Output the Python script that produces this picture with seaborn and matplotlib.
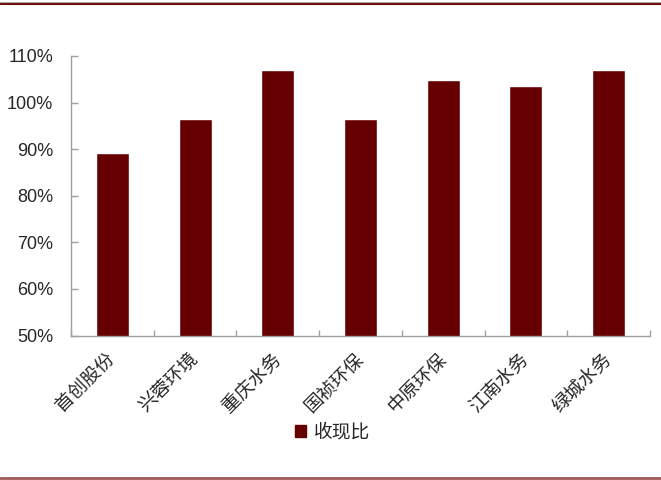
import matplotlib
matplotlib.use("Agg")
import matplotlib.pyplot as plt
import seaborn as sns
import pandas as pd
from matplotlib.lines import Line2D
from matplotlib.ticker import FuncFormatter, FixedLocator

companies = ["首创股份", "兴蓉环境", "重庆水务", "国祯环保", "中原环保", "江南水务", "绿城水务"]
cash_ratio = [0.891, 0.964, 1.069, 0.964, 1.048, 1.036, 1.069]
series_name = "收现比"
yticks = [0.5, 0.6, 0.7, 0.8, 0.9, 1.0, 1.1]

df = pd.DataFrame({"company": companies, "value": cash_ratio, "series": series_name})

sns.set_theme(style="white")
plt.rcParams["font.family"] = ["Noto Sans CJK SC", "DejaVu Sans"]

fig = plt.figure(figsize=(6.61, 4.8), dpi=100)
ax = fig.add_axes([71/661, 1-335.5/480, (650-71)/661, (335.5-56)/480])

sns.barplot(data=df, x="company", y="value", hue="series", palette=["#660000"],
            width=0.4, ax=ax, saturation=1, legend=False)

ax.set_ylim(0.5, 1.1)
ax.set_xlim(-0.5, len(companies) - 0.5)
ax.set_yticks(yticks)
ax.yaxis.set_major_formatter(FuncFormatter(lambda v, p: f"{v*100:.0f}%"))
ax.set_xlabel("")
ax.set_ylabel("")

for s in ["top", "right"]:
    ax.spines[s].set_visible(False)
for s in ["left", "bottom"]:
    ax.spines[s].set_color("#a0a0a0")
    ax.spines[s].set_linewidth(1.0)

ax.tick_params(axis="y", direction="in", length=5, width=1, color="#a0a0a0",
               pad=13, labelsize=13, left=True)
for lab in ax.get_yticklabels():
    lab.set_fontfamily(["Liberation Sans", "DejaVu Sans"])

ax.xaxis.set_minor_locator(FixedLocator([i + 0.5 for i in range(-1, len(companies))]))
ax.tick_params(axis="x", which="minor", direction="in", length=4, width=1,
               color="#a0a0a0", bottom=True)
ax.tick_params(axis="x", which="major", length=0, pad=15, labelsize=13.5)
ax.set_xticks(range(len(companies)))
ax.set_xticklabels(companies, rotation=45, ha="right", va="center",
                   rotation_mode="anchor")

handles = [plt.Rectangle((0, 0), 1, 1, color="#660000")]
fig.legend(handles, [series_name], loc="center", bbox_to_anchor=(0.503, 1-432/480),
           frameon=False, fontsize=13.5, handlelength=0.6, handleheight=0.6,
           handletextpad=0.4)

fig.add_artist(Line2D([0, 1], [1-2/480, 1-2/480], color="#b0a0a0", linewidth=0.6,
                      transform=fig.transFigure))
fig.add_artist(Line2D([0, 1], [1-4/480, 1-4/480], color="#6b0f0f", linewidth=1.5,
                      transform=fig.transFigure))
fig.add_artist(Line2D([0, 1], [1-477.5/480, 1-477.5/480], color="#9e5a5a", linewidth=2,
                      transform=fig.transFigure))

fig.savefig("out.png", dpi=100)
